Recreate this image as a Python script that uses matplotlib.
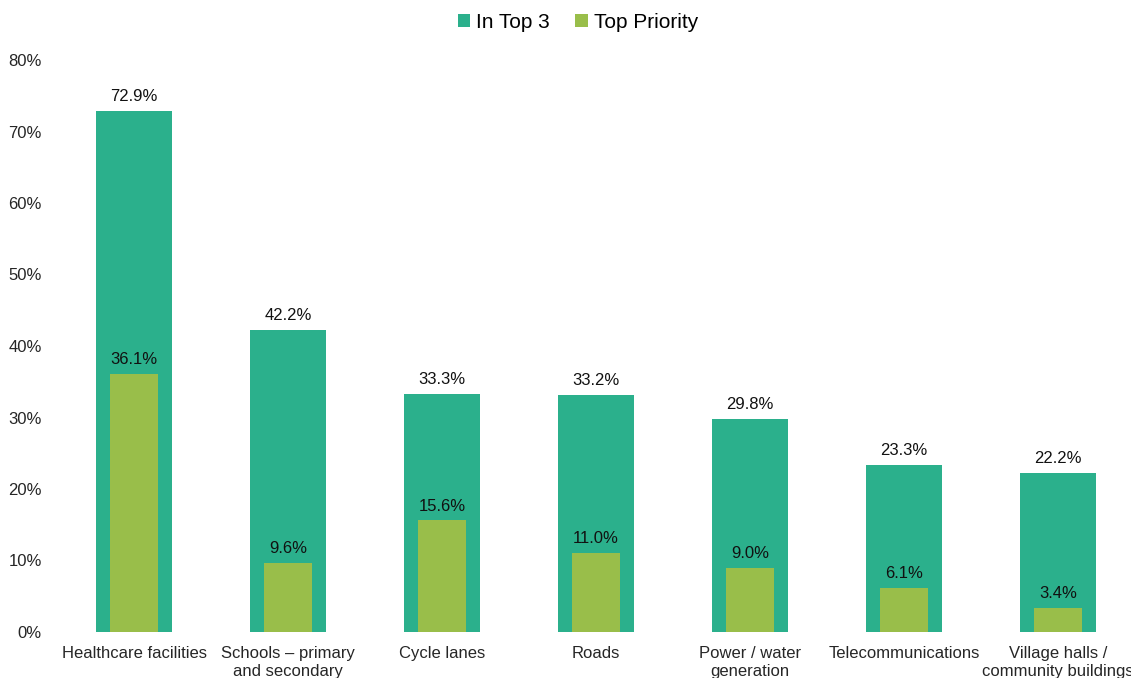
import matplotlib
matplotlib.use("Agg")
import matplotlib.pyplot as plt
from matplotlib.ticker import FuncFormatter

plt.rcParams['font.family'] = ['Liberation Sans', 'DejaVu Sans']

categories = ["Healthcare facilities", "Schools \u2013 primary\nand secondary", "Cycle lanes",
              "Roads", "Power / water\ngeneration", "Telecommunications",
              "Village halls /\ncommunity buildings"]
in_top3 = [72.9, 42.2, 33.3, 33.2, 29.8, 23.3, 22.2]
top_priority = [36.1, 9.6, 15.6, 11.0, 9.0, 6.1, 3.4]
series_names = ["In Top 3", "Top Priority"]

dark = "#2BB08C"
light = "#99BE4A"
W, H = 1131, 678

fig = plt.figure(figsize=(W / 100, H / 100), dpi=100)
ax = fig.add_axes([57 / W, (H - 632) / H, (1135 - 57) / W, (632 - 60) / H])

x = list(range(len(categories)))
b1 = ax.bar(x, in_top3, width=0.494, color=dark, label=series_names[0], zorder=2)
b2 = ax.bar(x, top_priority, width=0.31, color=light, label=series_names[1], zorder=3)

for xi, v in zip(x, in_top3):
    ax.annotate(f"{v:.1f}%", (xi, v), xytext=(0, 5), textcoords="offset points",
                ha="center", va="bottom", fontsize=12, color="#111111", zorder=4)
for xi, v in zip(x, top_priority):
    ax.annotate(f"{v:.1f}%", (xi, v), xytext=(0, 5), textcoords="offset points",
                ha="center", va="bottom", fontsize=12, color="#111111", zorder=4)

ax.set_xlim(-0.5, 6.5)
ax.set_ylim(0, 80)
ax.set_yticks(range(0, 81, 10))
ax.yaxis.set_major_formatter(FuncFormatter(lambda v, p: f"{v:.0f}%"))
ax.set_xticks(x)
ax.set_xticklabels(categories, fontsize=12, color="#262626", linespacing=1.25)
ax.tick_params(axis='y', labelsize=12, labelcolor="#262626", length=0, pad=11)
ax.tick_params(axis='x', length=0, pad=10)
for s in ax.spines.values():
    s.set_visible(False)

fig.legend(handles=[b1, b2], labels=series_names, loc="center", bbox_to_anchor=(578 / W, 1 - 22 / H),
           ncol=2, frameon=False, fontsize=15, handlelength=0.6, handleheight=0.6,
           handletextpad=0.3, columnspacing=1.2)

fig.savefig("out.png", dpi=100)
